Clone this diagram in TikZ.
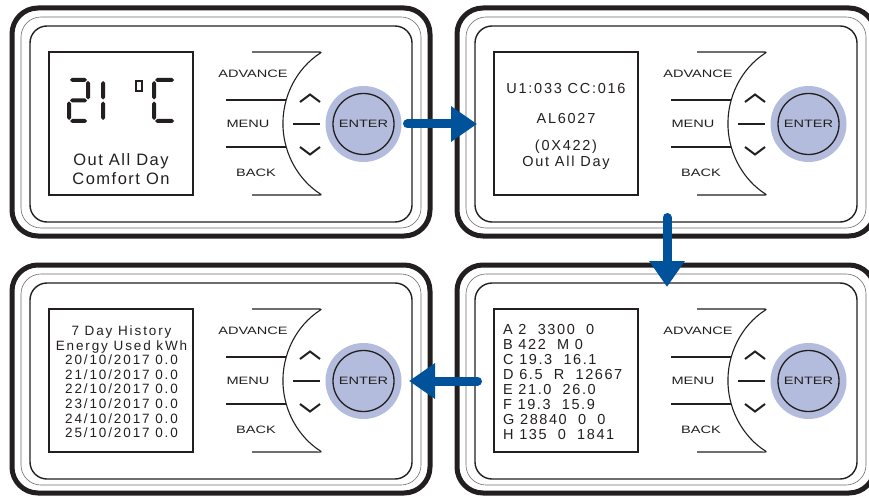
\documentclass[tikz,border=0pt]{standalone}
\usepackage{fontspec}
\setmainfont{Liberation Sans}
\newfontfamily\btnfont{Liberation Sans}
\newfontfamily\lcdA[LetterSpace=9]{Liberation Sans}
\newfontfamily\lcdB[LetterSpace=12]{Liberation Sans}
\newfontfamily\lcdC[LetterSpace=14]{Liberation Sans}
\newfontfamily\lcdD[LetterSpace=11]{Liberation Sans}
\usetikzlibrary{arrows.meta}
\definecolor{ink}{HTML}{231F20}
\definecolor{btnblue}{HTML}{B3BCDC}
\definecolor{arrowblue}{HTML}{00529B}
\newcommand\wide[1]{\scalebox{1.36}[1]{#1}}
\newcommand\hsg[3]{\fill[seg] (#1,#3) -- (#1+2,#3-2) -- (#2-2,#3-2) -- (#2,#3) -- (#2-2,#3+2) -- (#1+2,#3+2) -- cycle;}
\newcommand\vsg[3]{\fill[seg] (#1,#2) -- (#1+2,#2+2) -- (#1+2,#3-2) -- (#1,#3) -- (#1-2,#3-2) -- (#1-2,#2+2) -- cycle;}
\tikzset{
  outerframe/.style={draw=ink, line width=5pt, rounded corners=26pt},
  thinframe/.style={draw=ink!65, line width=0.6pt, rounded corners=20pt},
  innerframe/.style={draw=ink, line width=1.4pt, rounded corners=17pt},
  screenbox/.style={draw=ink, line width=1.2pt, minimum width=144pt, minimum height=143pt, inner sep=0pt},
  keyline/.style={draw=ink, line width=1.1pt},
  chev/.style={draw=ink, line width=2pt},
  keylabel/.style={font=\btnfont\fontsize{10.7}{12}\selectfont, text=ink, inner sep=0pt},
  enterouter/.style={circle, fill=btnblue, minimum size=76pt, inner sep=0pt},
  enterinner/.style={circle, draw=ink, line width=1.3pt, minimum size=61pt, inner sep=0pt, text=ink, font=\btnfont\fontsize{10.7}{12}\selectfont},
  lcdtext/.style={text=ink, inner sep=0pt},
  flowarrow/.style={draw=arrowblue, line width=9pt, line cap=round, -{Triangle[length=26pt,width=34pt]}},
  seg/.style={fill=ink},
  panel/.pic={
    \draw[outerframe] (0,0) rectangle (418,228);
    \draw[thinframe] (9,9) rectangle (409,220);
    \draw[innerframe] (18,18) rectangle (400,214);
    \node[screenbox] (-screen) at (109,115.5) {};
    \draw[keyline, rounded corners=2pt] (240,44) -- (310,44) arc[start angle=237.3, end angle=122.7, radius=85] -- (240,187);
    \draw[keyline] (214,92) -- (274.3,92);
    \draw[keyline] (214,139) -- (274.3,139);
    \draw[keyline] (281,116) -- (308,116);
    \draw[chev] (288,94) -- (298,86.5) -- (308,94);
    \draw[chev] (288,139) -- (298,146.5) -- (308,139);
    \node[keylabel] (-adv) at (241,66) {\wide{ADVANCE}};
    \node[keylabel] (-menu) at (236,116) {\wide{MENU}};
    \node[keylabel] (-back) at (244,165) {\wide{BACK}};
    \node[enterouter] (-enter) at (351.5,116) {};
    \node[enterinner] (-enterlabel) at (351.5,116) {\wide{ENTER}};
  }
}
\begin{document}
\begin{tikzpicture}[x=1pt,y=-1pt]
\useasboundingbox (0,0) rectangle (869,497);
\clip (0,0) rectangle (869,497);
\fill[white] (0,0) rectangle (869,497);
\pic (p1) at (12,8) {panel};
\pic (p2) at (457,8) {panel};
\pic (p3) at (12,265) {panel};
\pic (p4) at (457,265) {panel};
% panel 1 display
\hsg{70}{87}{80} \vsg{88}{81}{99.5} \hsg{70}{87}{100.5} \vsg{69}{101.5}{120} \hsg{70}{87}{121}
\vsg{103}{81}{99.5} \vsg{103}{101.5}{120}
\draw[ink, line width=1.6pt] (136,81) rectangle (142,91);
\hsg{155}{174}{80} \vsg{154}{81}{99.5} \vsg{154}{101.5}{120} \hsg{155}{174}{121}
\node[lcdtext, align=center, font=\lcdA\fontsize{16.5}{19}\selectfont] (t1) at (121,169.5) {Out All Day\\Comfort On};
% panel 2 display
\node[lcdtext, font=\lcdB\fontsize{14.5}{16}\selectfont] (t2a) at (566,89) {U1:033 CC:016};
\node[lcdtext, font=\lcdB\fontsize{14.5}{16}\selectfont] (t2b) at (566,119) {AL6027};
\node[lcdtext, align=center, font=\lcdB\fontsize{14.5}{16}\selectfont] (t2c) at (566,155) {(0X422)\\Out All Day};
% panel 3 display
\node[lcdtext, align=center, font=\lcdC\fontsize{13.5}{14.6}\selectfont] (t3) at (121.5,381.7) {7 Day History\\Energy Used kWh\\20/10/2017 0.0\\21/10/2017 0.0\\22/10/2017 0.0\\23/10/2017 0.0\\24/10/2017 0.0\\25/10/2017 0.0};
% panel 4 display
\node[lcdtext, align=left, anchor=west, font=\lcdD\fontsize{14.5}{15}\selectfont] (t4) at (503,382.5) {A 2~~3300~~0\\B 422~~M 0\\C 19.3~~16.1\\D 6.5~~R~~12667\\E 21.0~~26.0\\F 19.3~~15.9\\G 28840~~0~~0\\H 135~~0~~1841};
% arrows
\coordinate (a1s) at (407.5,124);
\coordinate (a1e) at (477,124);
\coordinate (a2s) at (667,217.5);
\coordinate (a2e) at (667,287);
\coordinate (a3s) at (477.5,381);
\coordinate (a3e) at (409,381);
\draw[flowarrow] (a1s) -- (a1e);
\draw[flowarrow] (a2s) -- (a2e);
\draw[flowarrow] (a3s) -- (a3e);
\end{tikzpicture}
\end{document}
